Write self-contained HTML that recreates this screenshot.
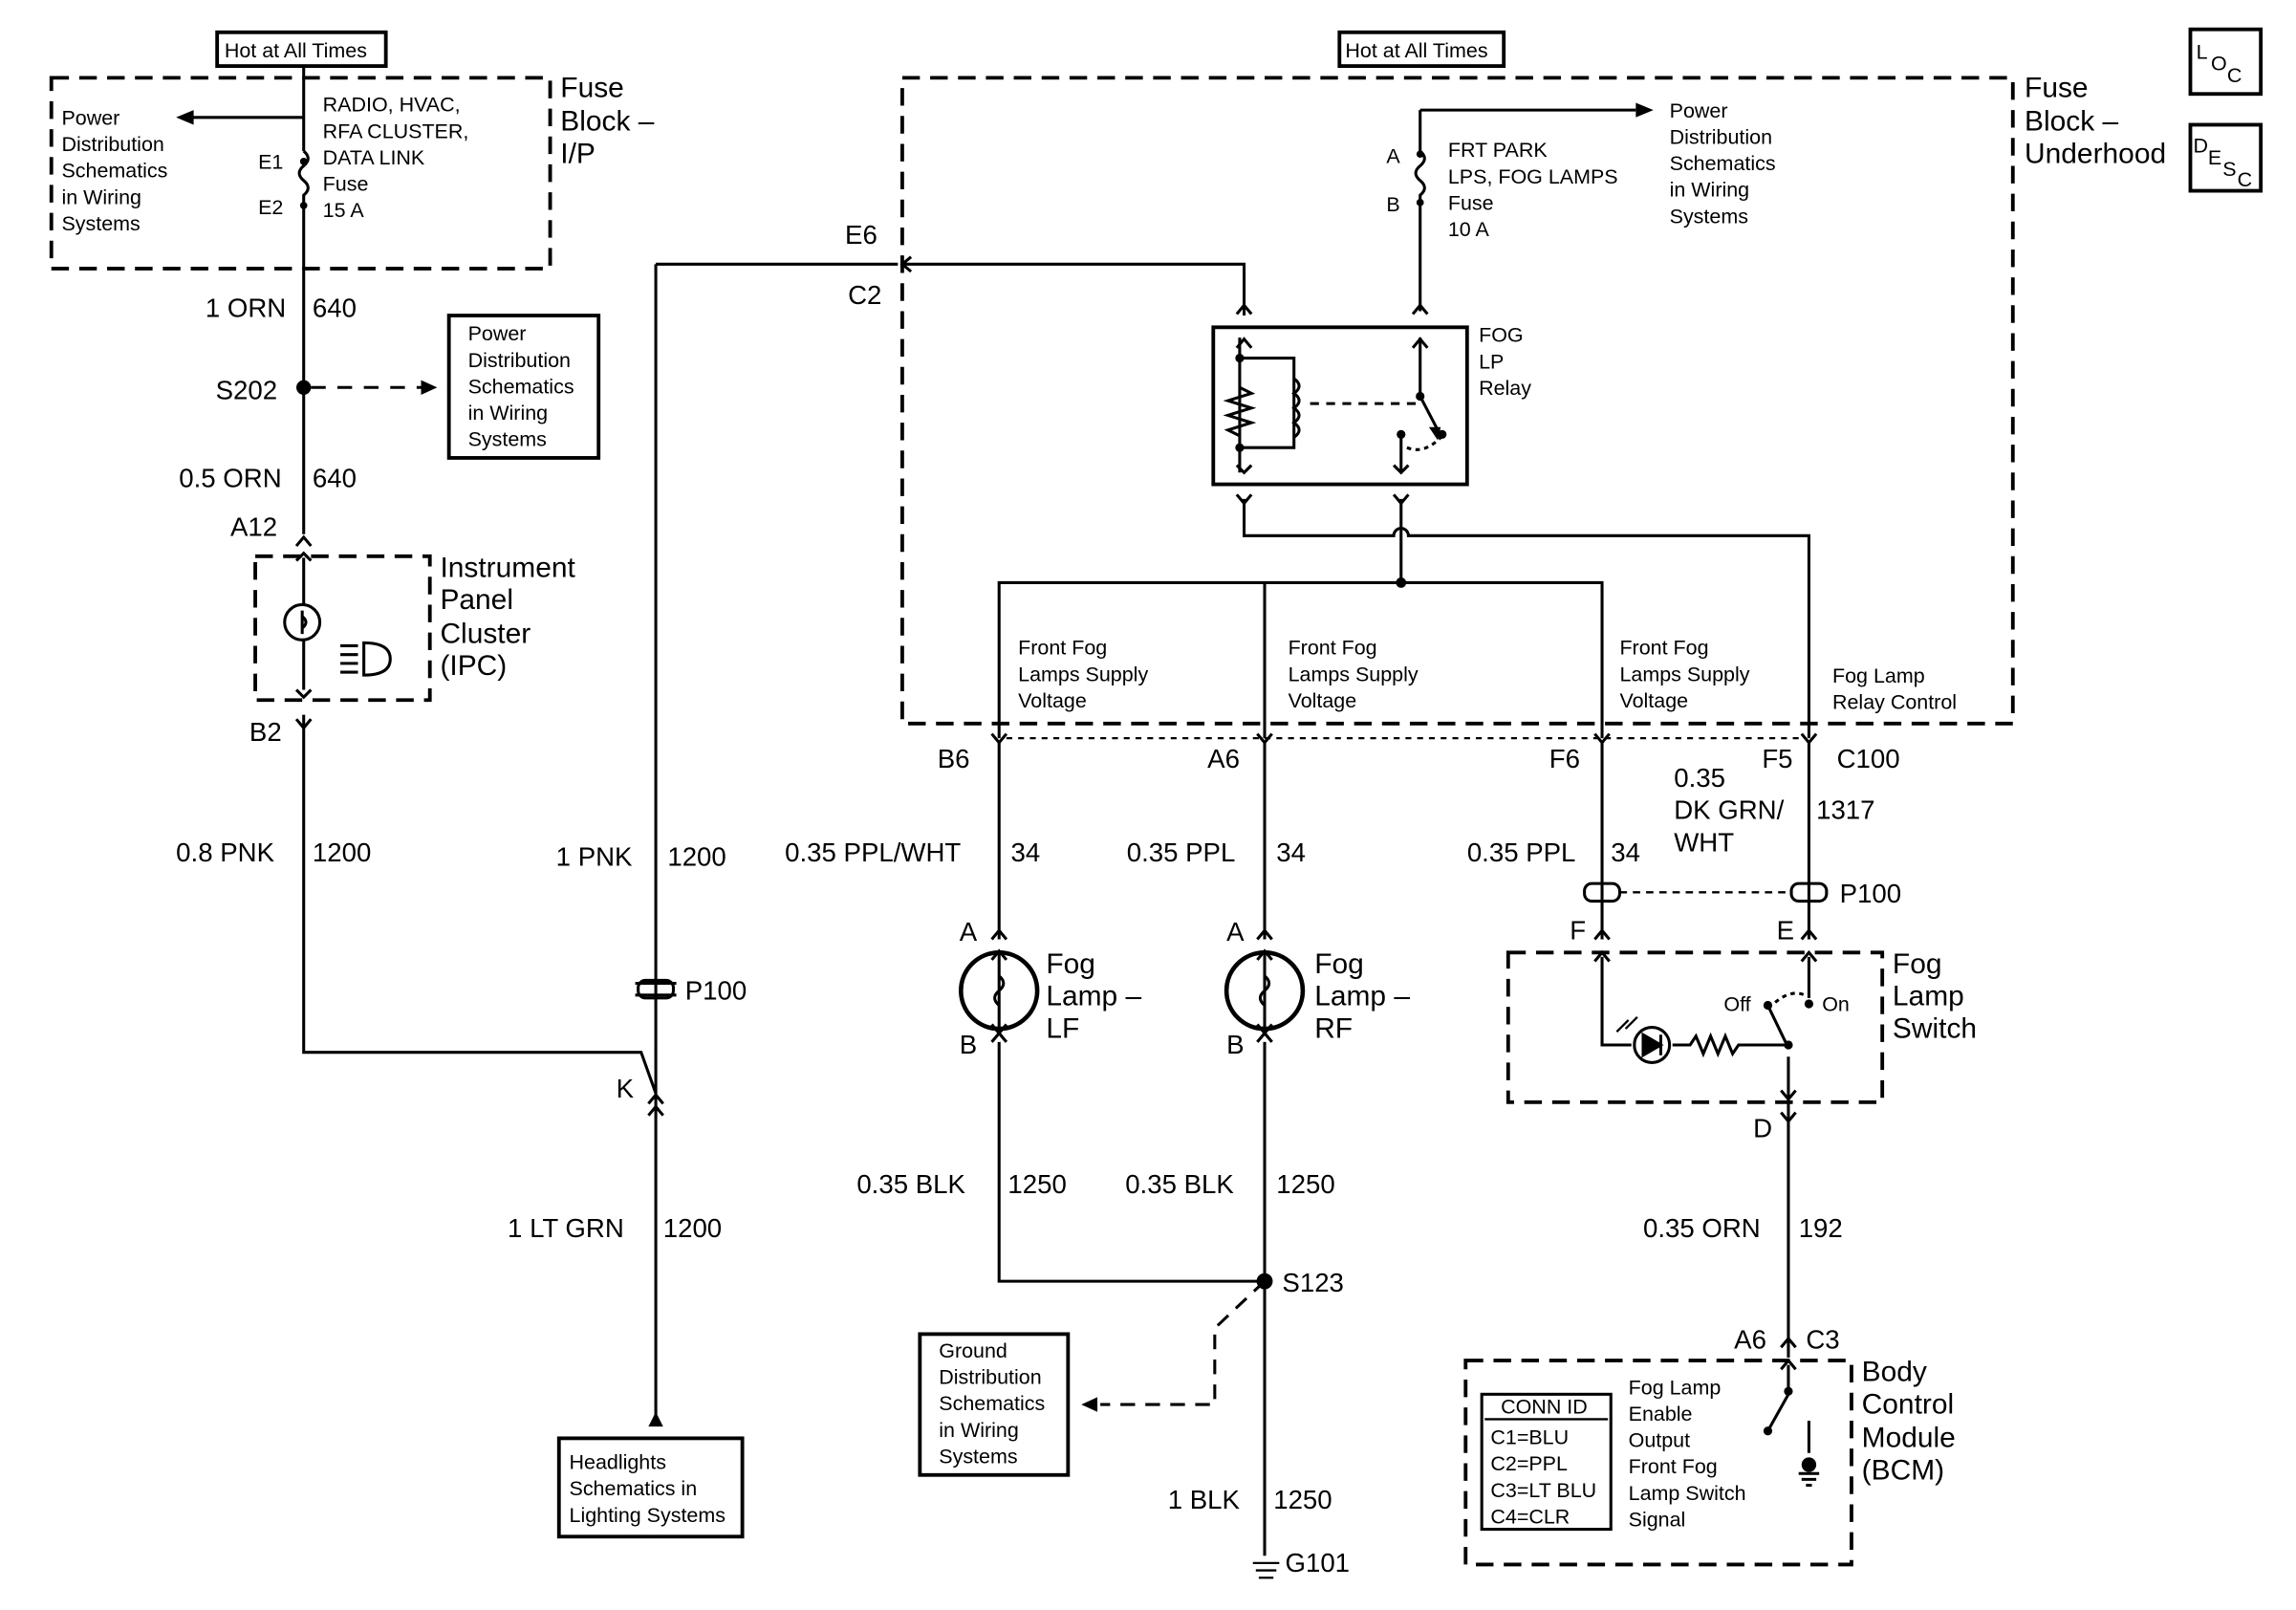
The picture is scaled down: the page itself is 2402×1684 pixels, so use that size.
<!DOCTYPE html>
<html><head><meta charset="utf-8"><style>
html,body{margin:0;padding:0;background:#fff;}
svg{display:block}
text{font-family:"Liberation Sans",sans-serif;fill:#000}
.s{font-size:14px}.m{font-size:18px}.l{font-size:19.5px}
</style></head><body>
<svg width="2402" height="1684" viewBox="0 0 1565 1097" preserveAspectRatio="none" xmlns="http://www.w3.org/2000/svg">
<g fill="none" stroke="#000" stroke-width="2">
<rect x="148" y="22" width="115" height="23" stroke-width="2.5"/>
<rect x="913" y="22" width="112" height="23" stroke-width="2.5"/>
<rect x="1493" y="20" width="48" height="44" stroke-width="2.5"/>
<rect x="1493" y="85" width="48" height="45" stroke-width="2.5"/>
<g stroke-dasharray="12,7" stroke-width="2.5">
<rect x="35" y="53" width="340" height="130"/>
<rect x="615" y="53" width="757" height="440"/>
<rect x="174" y="379" width="119" height="98"/>
<rect x="1028" y="649" width="255" height="102"/>
<rect x="999" y="927" width="263" height="139"/>
</g>
<rect x="306" y="215" width="102" height="97" stroke-width="2.5"/>
<rect x="627" y="909" width="101" height="96" stroke-width="2.5"/>
<rect x="381" y="980" width="125" height="67" stroke-width="2.5"/>
<rect x="1010" y="950" width="88" height="92" stroke-width="2"/>
<rect x="827" y="223" width="173" height="107" stroke-width="2.5"/>
<path d="M207 45 V103 M207 143 V364"/>
<path d="M207 103 q6 5 0 10 q-6 5 0 10 q6 5 0 10 v10"/>
<path d="M207 80 H125"/>
<path d="M212 264 H290" stroke-dasharray="10,8"/>
<path d="M207 487 V717 H437 L447 745"/>
<path d="M447 180 V970"/>
<path d="M447 180 H612 M616 180 H848 V215"/>
<path d="M845 230 V322 M845 244 H882 V305 H845"/>
<path d="M845 264 l8 4 -16 5 16 5 -16 5 16 5 -16 5 8 4"/>
<path d="M882 258 q7 5 0 10 q7 5 0 10 q7 5 0 10 q7 5 0 10"/>
<path d="M893 275 H965" stroke-dasharray="6,5"/>
<path d="M968 230 V270 L980 293"/>
<path d="M955 296 V322"/>
<path d="M959 305 q12 5 24 -8" stroke-dasharray="3,3"/>
<path d="M848 340 V365 H950 a5 5 0 0 1 10 0 H1233 V503"/>
<path d="M955 340 V397 M681 503 V397 H1092 V503 M862 397 V503"/>
<path d="M968 75 V103 M968 143 V212 M968 75 H1115"/>
<path d="M968 103 q6 5 0 10 q-6 5 0 10 q6 5 0 10 v10"/>
<path d="M686 503 H1228" stroke-dasharray="4,4" stroke-width="1.5"/>
<path d="M681 505 V640 M681 710 V873 H862 M862 505 V640 M862 710 V1060"/>
<circle cx="681" cy="675" r="26" stroke-width="3"/>
<circle cx="862" cy="675" r="26" stroke-width="3"/>
<path d="M681 650 V700 M681 665 q6 5 0 10 q-6 5 0 10"/>
<path d="M862 650 V700 M862 665 q6 5 0 10 q-6 5 0 10"/>
<path d="M862 873 L828 905 V957 H750" stroke-dasharray="10,7"/>
<path d="M1092 505 V640 M1233 505 V640"/>
<path d="M1104 608 H1222" stroke-dasharray="5,4" stroke-width="1.5"/>
<path d="M1092 652 V712 H1112 M1140 712 H1152 l4 -6 5 12 5 -12 5 12 5 -12 5 12 4 -6 H1218 L1205 685 M1219 720 V925 M1233 652 V680"/>
<path d="M1210 683 q12 -10 22 -4" stroke-dasharray="3,3"/>
<circle cx="1126" cy="712" r="12"/>
<path d="M1120 705 V719 L1132 712 Z M1132 705 V719" fill="#000"/>
<path d="M1110 695 l-8 8 M1116 693 l-8 8" stroke-width="1.5"/>
<path d="M207 380 V470"/>
<circle cx="206" cy="424" r="12" fill="#fff"/>
<path d="M206 416 V432 M206 420 q5 4 0 8"/>
<path d="M232 440 H244 M232 446 H244 M232 452 H244 M232 458 H244"/>
<path d="M248 438 q18 0 18 11 q0 11 -18 11 Z"/>
<path d="M1219 930 V950 L1205 975 M1233 968 V990"/>
<path d="M1226 1004 H1240 M1228 1008 H1238 M1231 1012 H1235" />
<path d="M860 1065 H866 M856 1070 H870 M854 1065 H872 M858 1075 H868" stroke-width="1.5"/>
<path d="M433 670 H461 M433 678 H461"/>
<rect x="435" y="668" width="24" height="12" rx="5"/>
<rect x="1080" y="602" width="24" height="12" rx="5"/>
<rect x="1221" y="602" width="24" height="12" rx="5"/>
<g stroke-width="2">
<path d="M202 372 l5 -6 5 6 M202 490 l5 6 5 -6 M202 382 l5 -5 5 5 M202 470 l5 5 5 -5"/>
<path d="M442 752 l5 -6 5 6 M442 760 l5 -6 5 6"/>
<path d="M843 214 l5 -6 5 6 M963 214 l5 -6 5 6 M843 237 l5 -6 5 6 M963 237 l5 -6 5 6"/>
<path d="M843 317 l5 5 5 -5 M950 317 l5 5 5 -5 M843 337 l5 6 5 -6 M950 337 l5 6 5 -6"/>
<path d="M676 500 l5 6 5 -6 M857 500 l5 6 5 -6 M1087 500 l5 6 5 -6 M1228 500 l5 6 5 -6"/>
<path d="M676 640 l5 -6 5 6 M857 640 l5 -6 5 6 M676 710 l5 -6 5 6 M857 710 l5 -6 5 6"/>
<path d="M676 654 l5 -6 5 6 M857 654 l5 -6 5 6 M676 698 l5 6 5 -6 M857 698 l5 6 5 -6"/>
<path d="M1087 640 l5 -6 5 6 M1228 640 l5 -6 5 6 M1087 655 l5 -6 5 6 M1228 655 l5 -6 5 6"/>
<path d="M1214 743 l5 6 5 -6 M1214 758 l5 6 5 -6 M1214 918 l5 -6 5 6 M1214 933 l5 -6 5 6"/>
<path d="M621 175 l-6 5 6 5"/>
</g>
</g>
<g fill="#000">
<path d="M120 80 l12 -5 v10 z"/>
<path d="M298 264 l-11 -5 v10 z"/>
<path d="M1127 75 l-12 -5 v10 z"/>
<path d="M737 957 l11 -5 v10 z"/>
<path d="M447 962 l-5 10 h10 z"/>
<circle cx="207" cy="264" r="5"/><circle cx="862" cy="873" r="5.5"/>
<circle cx="955" cy="397" r="3.5"/>
<circle cx="207" cy="110" r="2.5"/><circle cx="207" cy="140" r="2.5"/>
<circle cx="968" cy="105" r="2.5"/><circle cx="968" cy="138" r="2.5"/>
<circle cx="845" cy="244" r="3"/><circle cx="845" cy="305" r="3"/>
<circle cx="968" cy="270" r="3"/><circle cx="983" cy="296" r="3"/><circle cx="955" cy="296" r="3"/>
<circle cx="1205" cy="685" r="3"/><circle cx="1233" cy="684" r="3"/><circle cx="1219" cy="712" r="3"/>
<circle cx="1219" cy="948" r="3"/><circle cx="1205" cy="975" r="3"/><circle cx="1233" cy="998" r="5"/>
<path d="M980 300 l-6 -9 8 0 z"/>
</g>
<text x="153" y="39" class="s">Hot at All Times</text>
<text x="917" y="39" class="s">Hot at All Times</text>
<text x="1497" y="40" class="s">L</text><text x="1507" y="48" class="s">O</text><text x="1518" y="56" class="s">C</text>
<text x="1495" y="104" class="s">D</text><text x="1505" y="112" class="s">E</text><text x="1515" y="120" class="s">S</text><text x="1525" y="127" class="s">C</text>
<g class="s">
<text x="42" y="85">Power</text><text x="42" y="103">Distribution</text><text x="42" y="121">Schematics</text><text x="42" y="139">in Wiring</text><text x="42" y="157">Systems</text>
<text x="220" y="76">RADIO, HVAC,</text><text x="220" y="94">RFA CLUSTER,</text><text x="220" y="112">DATA LINK</text><text x="220" y="130">Fuse</text><text x="220" y="148">15 A</text>
<text x="176" y="115">E1</text><text x="176" y="146">E2</text>
<text x="319" y="232">Power</text><text x="319" y="250">Distribution</text><text x="319" y="268">Schematics</text><text x="319" y="286">in Wiring</text><text x="319" y="304">Systems</text>
<text x="945" y="111">A</text><text x="945" y="144">B</text>
<text x="987" y="107">FRT PARK</text><text x="987" y="125">LPS, FOG LAMPS</text><text x="987" y="143">Fuse</text><text x="987" y="161">10 A</text>
<text x="1138" y="80">Power</text><text x="1138" y="98">Distribution</text><text x="1138" y="116">Schematics</text><text x="1138" y="134">in Wiring</text><text x="1138" y="152">Systems</text>
<text x="1008" y="233">FOG</text><text x="1008" y="251">LP</text><text x="1008" y="269">Relay</text>
<text x="694" y="446">Front Fog</text><text x="694" y="464">Lamps Supply</text><text x="694" y="482">Voltage</text>
<text x="878" y="446">Front Fog</text><text x="878" y="464">Lamps Supply</text><text x="878" y="482">Voltage</text>
<text x="1104" y="446">Front Fog</text><text x="1104" y="464">Lamps Supply</text><text x="1104" y="482">Voltage</text>
<text x="1249" y="465">Fog Lamp</text><text x="1249" y="483">Relay Control</text>
<text x="1175" y="689">Off</text><text x="1242" y="689">On</text>
<text x="640" y="925">Ground</text><text x="640" y="943">Distribution</text><text x="640" y="961">Schematics</text><text x="640" y="979">in Wiring</text><text x="640" y="997">Systems</text>
<text x="388" y="1001">Headlights</text><text x="388" y="1019">Schematics in</text><text x="388" y="1037">Lighting Systems</text>
<text x="1023" y="963">CONN ID</text>
<text x="1016" y="984">C1=BLU</text><text x="1016" y="1002">C2=PPL</text><text x="1016" y="1020">C3=LT BLU</text><text x="1016" y="1038">C4=CLR</text>
<text x="1110" y="950">Fog Lamp</text><text x="1110" y="968">Enable</text><text x="1110" y="986">Output</text><text x="1110" y="1004">Front Fog</text><text x="1110" y="1022">Lamp Switch</text><text x="1110" y="1040">Signal</text>
</g>
<path d="M1012 967 H1096" stroke="#000" stroke-width="1.5"/>
<g class="l">
<text x="382" y="66">Fuse</text><text x="382" y="89">Block –</text><text x="382" y="111">I/P</text>
<text x="1380" y="66">Fuse</text><text x="1380" y="89">Block –</text><text x="1380" y="111">Underhood</text>
<text x="300" y="393">Instrument</text><text x="300" y="415">Panel</text><text x="300" y="438">Cluster</text><text x="300" y="460">(IPC)</text>
<text x="713" y="663">Fog</text><text x="713" y="685">Lamp –</text><text x="713" y="707">LF</text>
<text x="896" y="663">Fog</text><text x="896" y="685">Lamp –</text><text x="896" y="707">RF</text>
<text x="1290" y="663">Fog</text><text x="1290" y="685">Lamp</text><text x="1290" y="707">Switch</text>
<text x="1269" y="941">Body</text><text x="1269" y="963">Control</text><text x="1269" y="986">Module</text><text x="1269" y="1008">(BCM)</text>
</g>
<g class="m">
<text x="140" y="216">1 ORN</text><text x="213" y="216">640</text>
<text x="147" y="272">S202</text>
<text x="122" y="332">0.5 ORN</text><text x="213" y="332">640</text>
<text x="157" y="365">A12</text><text x="170" y="505">B2</text>
<text x="120" y="587">0.8 PNK</text><text x="213" y="587">1200</text>
<text x="379" y="590">1 PNK</text><text x="455" y="590">1200</text>
<text x="467" y="681">P100</text><text x="420" y="748">K</text>
<text x="346" y="843">1 LT GRN</text><text x="452" y="843">1200</text>
<text x="576" y="166">E6</text><text x="578" y="207">C2</text>
<text x="639" y="523">B6</text><text x="823" y="523">A6</text><text x="1056" y="523">F6</text><text x="1201" y="523">F5</text><text x="1252" y="523">C100</text>
<text x="535" y="587">0.35 PPL/WHT</text><text x="689" y="587">34</text>
<text x="768" y="587">0.35 PPL</text><text x="870" y="587">34</text>
<text x="1000" y="587">0.35 PPL</text><text x="1098" y="587">34</text>
<text x="1141" y="536">0.35</text><text x="1141" y="558">DK GRN/</text><text x="1238" y="558">1317</text><text x="1141" y="580">WHT</text>
<text x="1254" y="615">P100</text>
<text x="654" y="641">A</text><text x="836" y="641">A</text><text x="654" y="718">B</text><text x="836" y="718">B</text>
<text x="1070" y="640">F</text><text x="1211" y="640">E</text><text x="1195" y="775">D</text>
<text x="584" y="813">0.35 BLK</text><text x="687" y="813">1250</text>
<text x="767" y="813">0.35 BLK</text><text x="870" y="813">1250</text>
<text x="874" y="880">S123</text>
<text x="1120" y="843">0.35 ORN</text><text x="1226" y="843">192</text>
<text x="1182" y="919">A6</text><text x="1231" y="919">C3</text>
<text x="796" y="1028">1 BLK</text><text x="868" y="1028">1250</text>
<text x="876" y="1071">G101</text>
</g>
</svg>
</body></html>
